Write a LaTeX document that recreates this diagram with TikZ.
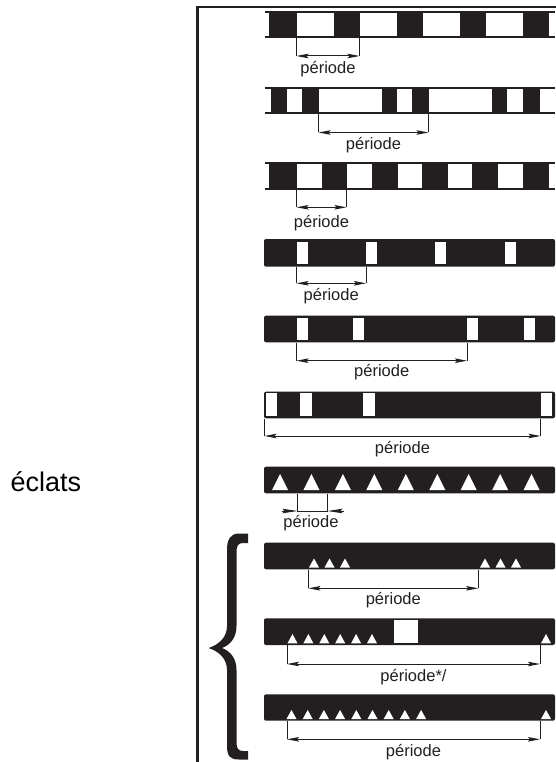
\documentclass[tikz,border=0pt]{standalone}
\usepackage{fontspec}
\setmainfont{Liberation Sans}
\usetikzlibrary{arrows.meta}
\definecolor{ink}{RGB}{35,31,32}
\tikzset{
  framel/.style={draw=ink, line width=2.5pt, line join=miter},
  stripeline/.style={draw=ink, line width=2pt},
  barfill/.style={fill=ink, rounded corners=2pt},
  hole/.style={fill=white},
  dimtick/.style={draw=ink, line width=1pt},
  dimarrow/.style={draw=ink, line width=1pt, {Stealth[length=12pt,width=4.5pt,inset=2pt]}-{Stealth[length=12pt,width=4.5pt,inset=2pt]}},
  arrowin/.style={draw=ink, line width=1pt, -{Stealth[length=15pt,width=4.5pt,inset=2pt]}},
  lbl/.style={font=\fontsize{16.5}{19}\selectfont, text=ink, inner sep=0pt},
  bigl/.style={font=\fontsize{27}{30}\selectfont, text=black, inner sep=0pt},
}
\newcommand\perdim[7]{%
  \coordinate (#1a) at (#2,#4); \coordinate (#1b) at (#3,#4);
  \coordinate (#1c) at (#2,#5); \coordinate (#1d) at (#3,#5);
  \draw[dimtick] (#1a) -- (#1c);
  \draw[dimtick] (#1b) -- (#1d);
  \draw[dimarrow] (#1c) -- (#1d);
  \node[lbl] (#1t) at ({(#2+#3)/2},#6) {#7};
}
\newcommand\tri[4]{\fill[white] ({#1-#4},#3) -- ({#1+#4},#3) -- (#1,#2) -- cycle;}
\begin{document}
\begin{tikzpicture}[x=1pt,y=-1pt]
\useasboundingbox (0,0) rectangle (556,762);
\draw[framel] (557,7) -- (197.3,7) -- (197.3,763);
\node[bigl, anchor=base west] (eclats) at (10.5,491.7) {éclats};

% row 1
\foreach \a/\b in {269/297,334/360,397/423,460/486,523/549}
  \fill[ink] (\a,12.5) rectangle (\b,37.5);
\draw[stripeline] (265,12.5) -- (555,12.5);
\draw[stripeline] (265,37.5) -- (555,37.5);
\perdim{dA}{296.5}{359.5}{38}{56}{69.5}{période}

% row 2
\foreach \a/\b in {271/287,302/319,382/397,412/429,492/507,523/540}
  \fill[ink] (\a,88.5) rectangle (\b,113.5);
\draw[stripeline] (265,88.5) -- (555,88.5);
\draw[stripeline] (265,113.5) -- (555,113.5);
\perdim{dB}{318.5}{428.5}{114}{132.5}{145.5}{période}

% row 3
\foreach \a/\b in {269/297,322/347,372/398,422/448,472/498,523/549}
  \fill[ink] (\a,163.5) rectangle (\b,188.5);
\draw[stripeline] (265,163.5) -- (555,163.5);
\draw[stripeline] (265,188.5) -- (555,188.5);
\perdim{dC}{296.5}{346.5}{189}{207.3}{223}{période}

% row 4
\fill[barfill] (264,239) rectangle (555,266.7);
\foreach \a/\b in {297/308,366/377,435/446,505/516}
  \fill[hole] (\a,242.3) rectangle (\b,264);
\perdim{dD}{296.5}{366}{267}{283.3}{296}{période}

% row 5
\fill[barfill] (264,315.7) rectangle (555,342.3);
\foreach \a/\b in {297/308,353/364,467/478,524/535}
  \fill[hole] (\a,318.3) rectangle (\b,340);
\perdim{dE}{296.5}{467}{342.5}{360.7}{372}{période}

% row 6
\fill[barfill] (264,391.7) rectangle (555,418.3);
\foreach \a/\b in {266/277,300/312,363/375,541/552}
  \fill[hole] (\a,393.3) rectangle (\b,416);
\perdim{dF}{264.5}{540.5}{418.5}{436}{449.3}{période}

% row 7
\fill[barfill] (264,466.7) rectangle (555,493.3);
\foreach \k in {0,...,8}{
  \pgfmathsetmacro\cx{280+31.45*\k}
  \tri{\cx}{474}{490}{8}
}
\coordinate (gA) at (297.5,493.5); \coordinate (gB) at (327.5,493.5);
\coordinate (gC) at (297.5,511);   \coordinate (gD) at (327.5,511);
\coordinate (gL) at (281.5,511);   \coordinate (gR) at (343.5,511);
\draw[dimtick] (gA) -- (gC) -- (gD) -- (gB);
\draw[arrowin] (gL) -- (gC);
\draw[arrowin] (gR) -- (gD);
\node[lbl] (gT) at (311,523) {période};

% row 8
\fill[barfill] (264,542.7) rectangle (555,569.3);
\foreach \c in {314,329.5,345,485,500.5,516}{\tri{\c}{558.5}{567.5}{5}}
\perdim{dH}{308.3}{478.3}{569.5}{588.3}{600}{période}

% row 9
\fill[barfill] (264,618.3) rectangle (555,645);
\foreach \k in {0,...,5}{
  \pgfmathsetmacro\cx{292.5+15.9*\k}
  \tri{\cx}{634}{643.3}{5}
}
\tri{546}{634}{643.3}{5}
\fill[hole] (394,620) rectangle (417.7,643.3);
\perdim{dI}{287}{540}{645.2}{664}{676.7}{période*/}

% row 10
\fill[barfill] (264,694.3) rectangle (555,720.7);
\foreach \k in {0,...,8}{
  \pgfmathsetmacro\cx{291.5+16.2*\k}
  \tri{\cx}{710}{719}{5}
}
\tri{546}{710}{719}{5}
\perdim{dJ}{287}{540}{721}{739.3}{751.7}{période}

% brace
\fill[ink] (248,533.5) -- (239,533.5)
  .. controls (230,533.5) and (227,540) .. (227,550) -- (227,626)
  .. controls (227,638) and (218,645) .. (208.5,648)
  .. controls (218,651) and (227,658) .. (227,670) -- (227,746)
  .. controls (227,756) and (230,759.5) .. (239,759.5) -- (248,759.5)
  -- (248,751) -- (243,751)
  .. controls (238,751) and (236.5,748) .. (236.5,742) -- (236.5,670)
  .. controls (236.5,658) and (230,651) .. (222,648)
  .. controls (230,645) and (236.5,638) .. (236.5,626) -- (236.5,552)
  .. controls (236.5,546) and (238,543) .. (243,543) -- (248,543) -- cycle;
\end{tikzpicture}
\end{document}
